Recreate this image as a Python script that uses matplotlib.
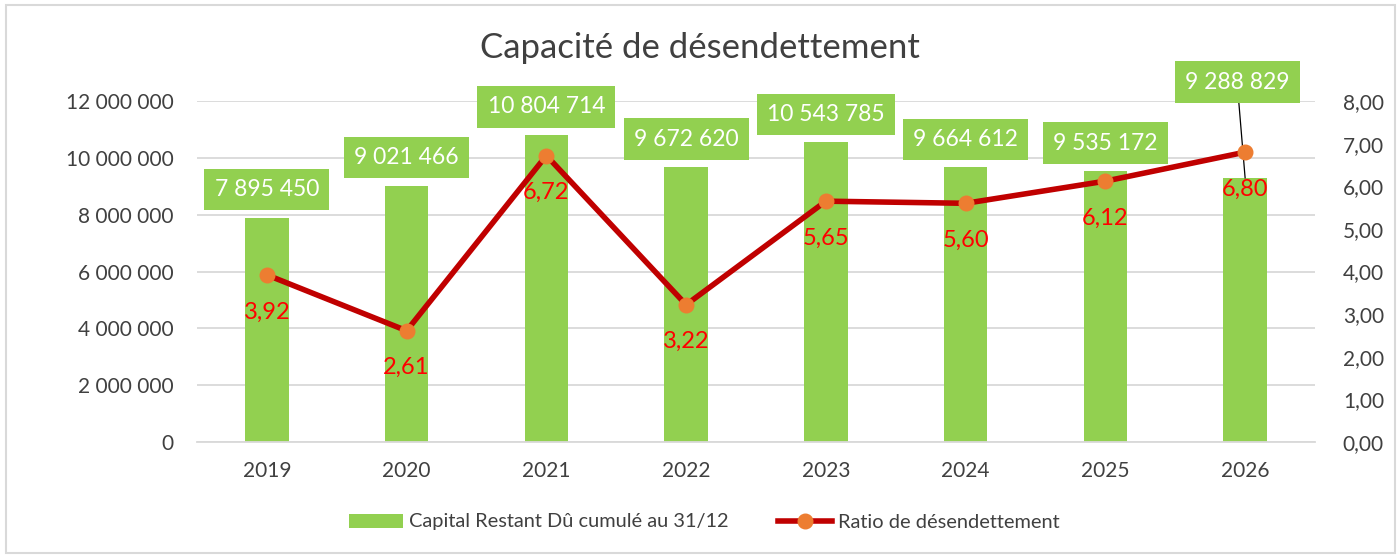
import matplotlib
matplotlib.use("Agg")
import matplotlib.pyplot as plt
from matplotlib.patches import Rectangle
from matplotlib.lines import Line2D
from matplotlib.patches import Patch
from matplotlib.ticker import FuncFormatter, MultipleLocator

plt.rcParams['font.family'] = ['Lato', 'DejaVu Sans']

years = ["2019", "2020", "2021", "2022", "2023", "2024", "2025", "2026"]
capital = [7895450, 9021466, 10804714, 9672620, 10543785, 9664612, 9535172, 9288829]
ratio = [3.92, 2.61, 6.72, 3.22, 5.65, 5.60, 6.12, 6.80]

GREEN = "#92D050"
RED = "#C00000"
ORANGE = "#ED7D31"
GRID = "#D9D9D9"
TXT = "#404040"

fig = plt.figure(figsize=(14, 5.58), dpi=100)
fig.patches.append(Rectangle((6/1400, 5/558), 1389/1400, 548/558, transform=fig.transFigure,
                             fill=False, edgecolor=GRID, lw=1.5))
ax = fig.add_axes([197/1400, 1-442/558, 1118/1400, 341/558])
ax2 = ax.twinx()

x = list(range(len(years)))
ax.bar(x, capital, width=0.31, color=GREEN, zorder=2)
ax.set_xlim(-0.5, len(years)-0.5)
ax.set_ylim(0, 12000000)
ax.yaxis.set_major_locator(MultipleLocator(2000000))
ax.yaxis.set_major_formatter(FuncFormatter(lambda v, p: f"{int(v):,}".replace(",", " ")))
ax.grid(axis='y', color=GRID, lw=1.3, zorder=0)
ax.set_axisbelow(True)
ax.set_xticks(x)
ax.set_xticklabels(years)
for s in ax.spines.values():
    s.set_visible(False)
for s in ax2.spines.values():
    s.set_visible(False)
ax.spines['bottom'].set_visible(True)
ax.spines['bottom'].set_color(GRID)
ax.spines['bottom'].set_linewidth(1.3)
ax.tick_params(axis='y', length=0, pad=17, labelsize=15, labelcolor=TXT)
ax.tick_params(axis='x', length=0, pad=14, labelsize=15, labelcolor=TXT)

ax2.set_ylim(0, 8)
ax2.yaxis.set_major_locator(MultipleLocator(1))
ax2.yaxis.set_major_formatter(FuncFormatter(lambda v, p: f"{v:.2f}".replace(".", ",")))
ax2.tick_params(axis='y', length=0, pad=20, labelsize=15, labelcolor=TXT)
ax2.plot(x, ratio, color=RED, lw=4, marker='o', markersize=10.5,
         markerfacecolor=ORANGE, markeredgecolor=ORANGE, zorder=3)

# bar labels
for i, v in enumerate(capital):
    lab = f"{v:,}".replace(",", " ")
    bbox = dict(boxstyle="square,pad=0.45", fc=GREEN, ec="none")
    if i == len(capital) - 1:
        ax.annotate(lab, xy=(i, v), xytext=(-8, 96), textcoords='offset pixels',
                    ha='center', va='center', fontsize=16.5, color='white', bbox=bbox,
                    arrowprops=dict(arrowstyle='-', color='black', lw=0.9,
                                    shrinkA=0, shrinkB=0), zorder=5)
    else:
        ax.annotate(lab, xy=(i, v), xytext=(0, 28), textcoords='offset pixels',
                    ha='center', va='center', fontsize=16.5, color='white', bbox=bbox, zorder=5)

# ratio labels
for i, r in enumerate(ratio):
    ax2.annotate(f"{r:.2f}".replace(".", ","), xy=(i, r), xytext=(0, -37),
                 textcoords='offset pixels', ha='center', va='center',
                 fontsize=17, color='#FF0000', zorder=6)

fig.text(0.5, 1-48/558, "Capacité de désendettement", ha='center', va='center',
         fontsize=25, color=TXT)

handles = [Patch(facecolor=GREEN, edgecolor='none'),
           Line2D([0], [0], color=RED, lw=4, marker='o', markersize=10.5,
                  markerfacecolor=ORANGE, markeredgecolor=ORANGE)]
fig.legend(handles, ["Capital Restant Dû cumulé au 31/12", "Ratio de désendettement"],
           loc='center', bbox_to_anchor=(0.503, 1-522/558), ncol=2, frameon=False,
           fontsize=14.4, labelcolor=TXT, columnspacing=2.5, handlelength=2.7,
           handletextpad=0.3)

fig.savefig("out.png", dpi=100)
